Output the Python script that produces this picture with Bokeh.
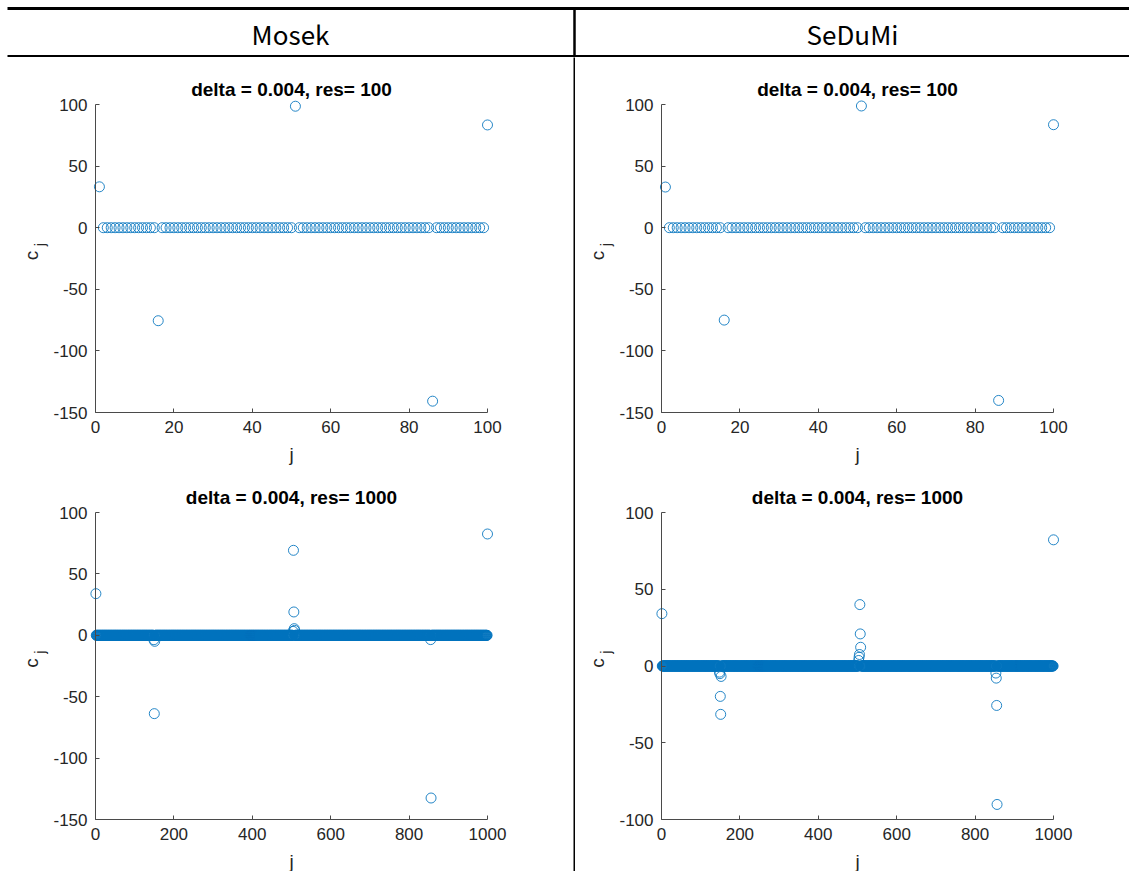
import math

from bokeh.core.properties import value
from bokeh.embed import file_html
from bokeh.layouts import column, row
from bokeh.models import FixedTicker, Label, Range1d
from bokeh.plotting import figure
from bokeh.resources import INLINE

# ---------------------------------------------------------------------------
# Data: coefficient index j and the coefficients c_j found by each solver.
# Every coefficient not listed in a "nonzero" table is 0.
# ---------------------------------------------------------------------------
solvers = ["Mosek", "SeDuMi"]

j_res100 = list(range(1, 101))
j_res1000 = list(range(1, 1001))

mosek_res100_nonzero = {1: 33.2, 16: -75.5, 51: 98.6, 86: -140.8, 100: 83.4}
sedumi_res100_nonzero = {1: 33.0, 16: -75.0, 51: 98.8, 86: -140.2, 100: 83.6}

mosek_res1000_nonzero = {
    1: 33.9,
    149: -3.6, 150: -63.8, 151: -4.9,
    504: 3.2, 505: 69.2, 506: 19.0, 507: 5.4, 508: 4.0,
    855: -3.5, 856: -132.5,
    1000: 82.5,
}
sedumi_res1000_nonzero = {
    1: 34.1,
    148: -4.0, 149: -5.0, 150: -19.8, 151: -31.5, 152: -6.8,
    503: 3.6, 504: 5.7, 505: 7.5, 506: 40.0, 507: 20.9, 508: 12.2,
    853: -4.6, 854: -7.9, 855: -25.7, 856: -90.2,
    1000: 82.2,
}

titles = ["delta = 0.004, res= 100", "delta = 0.004, res= 1000"]

x_ticks_res100 = [0, 20, 40, 60, 80, 100]
x_ticks_res1000 = [0, 200, 400, 600, 800, 1000]
y_ticks_wide = [-150, -100, -50, 0, 50, 100]
y_ticks_narrow = [-100, -50, 0, 50, 100]


def coefficients(indices, nonzero):
    return [nonzero.get(k, 0.0) for k in indices]


# ---------------------------------------------------------------------------
# Styling
# ---------------------------------------------------------------------------
BLUE = "#0072BD"
AXIS_COLOR = "#4a4a4a"
TEXT_COLOR = "#262626"
TICK_FONT = "Liberation Sans"
HEADER_FONT = "Noto Sans CJK KR"

LEFT_W, SEP_W, RIGHT_W = 573, 2, 554
HEADER_H = 57
TOP_H, BOTTOM_H = 413, 401


def panel(js, cs, title, xlim, ylim, xticks, yticks, fig_w, fig_h, box):
    """One scatter panel.  The frame covers the whole figure so markers at the
    axes limits and the texts around the axes are never cut; `box` gives the
    axes rectangle (left, top, width, height) in figure pixels."""
    bl, bt, bw, bh = box
    sx = bw / (xlim[1] - xlim[0])
    sy = bh / (ylim[1] - ylim[0])
    p = figure(
        frame_width=fig_w, frame_height=fig_h,
        x_range=Range1d(xlim[0] - bl / sx, xlim[1] + (fig_w - bl - bw) / sx),
        y_range=Range1d(ylim[0] - (fig_h - bt - bh) / sy, ylim[1] + bt / sy),
        min_border=0, toolbar_location=None, output_backend="svg",
    )
    p.outline_line_color = None
    p.grid.visible = False
    p.background_fill_color = "white"
    p.border_fill_color = "white"

    p.scatter(js, cs, marker="circle", size=10, fill_color=None,
              line_color=BLUE, line_alpha=0.85, line_width=1)

    xa, ya = p.xaxis[0], p.yaxis[0]
    xa.fixed_location = ylim[0]
    ya.fixed_location = xlim[0]
    xa.bounds = xlim
    ya.bounds = ylim
    for ax, ticks in ((xa, xticks), (ya, yticks)):
        ax.ticker = FixedTicker(ticks=ticks)
        ax.major_label_overrides = {t: str(t) for t in ticks}
        ax.major_tick_in = 4
        ax.major_tick_out = 0
        ax.minor_tick_line_color = None
        ax.axis_line_color = AXIS_COLOR
        ax.major_tick_line_color = AXIS_COLOR
        ax.major_label_text_font = TICK_FONT
        ax.major_label_text_font_size = "17px"
        ax.major_label_text_color = TEXT_COLOR
        ax.major_label_standoff = 8

    x_mid = (xlim[0] + xlim[1]) / 2
    y_mid = (ylim[0] + ylim[1]) / 2

    p.add_layout(Label(x=x_mid, y=ylim[1], y_offset=15, text=title,
                       text_align="center", text_baseline="middle",
                       text_font=TICK_FONT, text_font_style="bold",
                       text_font_size="19px", text_color="black"))
    p.add_layout(Label(x=x_mid, y=ylim[0], y_offset=-42, text="j",
                       text_align="center", text_baseline="middle",
                       text_font=TICK_FONT, text_font_size="19px",
                       text_color=TEXT_COLOR))
    # y label c_j: the letter plus a lowered subscript, turned upright
    p.add_layout(Label(x=xlim[0], y=y_mid, x_offset=-64, y_offset=3, text="c",
                       angle=math.pi / 2, text_align="center", text_baseline="middle",
                       text_font=TICK_FONT, text_font_size="19px",
                       text_color=TEXT_COLOR))
    p.add_layout(Label(x=xlim[0], y=y_mid, x_offset=-56, y_offset=14, text="j",
                       angle=math.pi / 2, text_align="center", text_baseline="middle",
                       text_font=TICK_FONT, text_font_size="15px",
                       text_color=TEXT_COLOR))
    return p


top_left = panel(j_res100, coefficients(j_res100, mosek_res100_nonzero), titles[0],
                 (0, 100), (-150, 100), x_ticks_res100, y_ticks_wide,
                 LEFT_W, TOP_H, box=(95, 47, 392, 308))
top_right = panel(j_res100, coefficients(j_res100, sedumi_res100_nonzero), titles[0],
                  (0, 100), (-150, 100), x_ticks_res100, y_ticks_wide,
                  RIGHT_W, TOP_H, box=(86, 47, 392, 308))
bottom_left = panel(j_res1000, coefficients(j_res1000, mosek_res1000_nonzero), titles[1],
                    (0, 1000), (-150, 100), x_ticks_res1000, y_ticks_wide,
                    LEFT_W, BOTTOM_H, box=(95, 42, 392, 307))
bottom_right = panel(j_res1000, coefficients(j_res1000, sedumi_res1000_nonzero), titles[1],
                     (0, 1000), (-100, 100), x_ticks_res1000, y_ticks_narrow,
                     RIGHT_W, BOTTOM_H, box=(86, 42, 392, 307))

# ---------------------------------------------------------------------------
# Table header with the solver names and the ruling lines
# ---------------------------------------------------------------------------
TOTAL_W = LEFT_W + SEP_W + RIGHT_W
header = figure(frame_width=TOTAL_W, frame_height=HEADER_H,
                x_range=Range1d(0, TOTAL_W), y_range=Range1d(HEADER_H, 0),
                min_border=0, toolbar_location=None, output_backend="svg",
                x_axis_location=None, y_axis_location=None)
header.grid.visible = False
header.outline_line_color = None
header.segment(x0=[7, 7], y0=[8, 56], x1=[TOTAL_W, TOTAL_W], y1=[8, 56],
               line_color="black", line_width=3)
header.segment(x0=[574], y0=[8], x1=[574], y1=[HEADER_H],
               line_color="black", line_width=2.5)
header.text(x=[290, 852], y=[33, 33], text=solvers,
            text_font=value(HEADER_FONT), text_font_size="26px",
            text_align="center", text_baseline="middle", text_color="black")

separator = figure(frame_width=SEP_W, frame_height=TOP_H + BOTTOM_H, min_border=0,
                   toolbar_location=None, output_backend="svg",
                   x_axis_location=None, y_axis_location=None,
                   background_fill_color="black", border_fill_color="black")
separator.grid.visible = False
separator.outline_line_color = None

layout = column(
    header,
    row(column(top_left, bottom_left), separator, column(top_right, bottom_right)),
)

open("out.html", "w").write(file_html(layout, INLINE))
